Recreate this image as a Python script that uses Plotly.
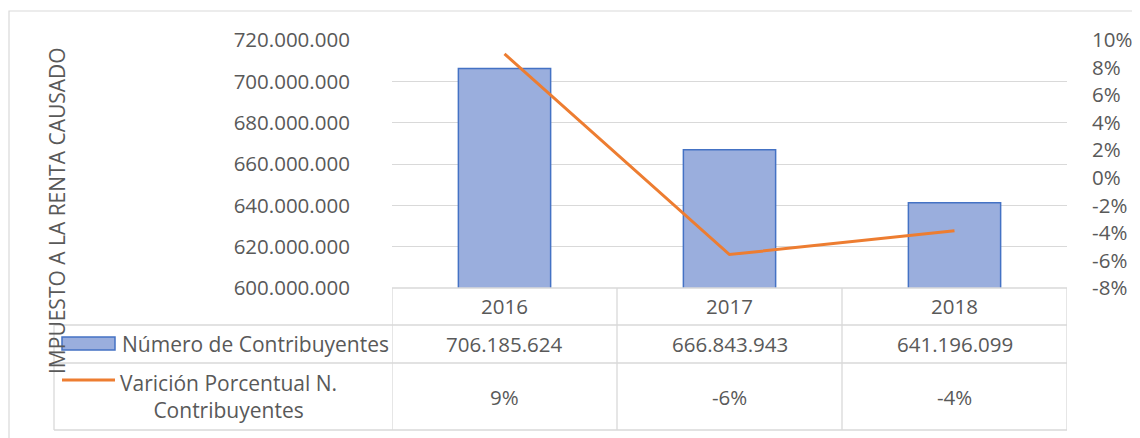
import plotly.graph_objects as go

# ---- data ----
years = ["2016", "2017", "2018"]
contribuyentes = [706185624, 666843943, 641196099]
variacion = [0.09, -0.0557, -0.0385]
series_names = ["Número de Contribuyentes", "Varición Porcentual N.<br>Contribuyentes"]
y_title = "IMPUESTO A LA RENTA CAUSADO"
pct_ticks = [-8, -6, -4, -2, 0, 2, 4, 6, 8, 10]

# page body has an 8px default margin; figure sized so the page is 1140x438
OFF = 8
W, H = 1140 - OFF, 438 - OFF
FONT = "Open Sans"
GRAY_TXT = "#595959"
GRID = "#d9d9d9"
BAR_FILL = "#9aaedd"
BAR_LINE = "#4472c4"
ORANGE = "#ed7d31"


def px(x):
    return (x - OFF) / W


def py(y):
    return (H - (y - OFF)) / H


fig = go.Figure()
fig.add_trace(go.Bar(
    x=years, y=contribuyentes, name=series_names[0], width=0.41,
    marker=dict(color=BAR_FILL, line=dict(color=BAR_LINE, width=1.5)),
    yaxis="y", showlegend=False,
))
fig.add_trace(go.Scatter(
    x=years, y=variacion, name="Variación", mode="lines",
    line=dict(color=ORANGE, width=3), yaxis="y2", showlegend=False,
))

plot_l, plot_r, plot_t, plot_b = 392, 1067, 40, 288

shapes = []
line_style = dict(color=GRID, width=1.3)
# table horizontal lines
shapes.append(dict(type="line", xref="paper", yref="paper", x0=px(plot_l), x1=px(plot_r),
                   y0=py(288), y1=py(288), line=line_style))
for yy in (325, 363, 430):
    shapes.append(dict(type="line", xref="paper", yref="paper", x0=px(54), x1=px(plot_r),
                       y0=py(yy), y1=py(yy), line=line_style))
# table vertical lines
shapes.append(dict(type="line", xref="paper", yref="paper", x0=px(54), x1=px(54),
                   y0=py(325), y1=py(430), line=line_style))
for xv in (-0.5, 0.5, 1.5, 2.5):
    shapes.append(dict(type="line", xref="x", yref="paper", x0=xv, x1=xv,
                       y0=py(288), y1=py(430), line=line_style))
# outer chart border
shapes.append(dict(type="rect", xref="paper", yref="paper", x0=px(9), x1=1.02,
                   y0=-0.03, y1=py(11), line=dict(color=GRID, width=1.2)))
# legend keys
shapes.append(dict(type="rect", xref="paper", yref="paper", x0=px(62), x1=px(115),
                   y0=py(350), y1=py(337), fillcolor=BAR_FILL,
                   line=dict(color=BAR_LINE, width=1.5)))
shapes.append(dict(type="line", xref="paper", yref="paper", x0=px(62), x1=px(115),
                   y0=py(380), y1=py(380), line=dict(color=ORANGE, width=3)))

ann = []
tf = dict(family=FONT, size=20.5, color=GRAY_TXT)
lf = dict(family=FONT, size=21, color=GRAY_TXT)
for i, yr in enumerate(years):
    ann.append(dict(x=i, xref="x", y=py(306), yref="paper", text=yr, showarrow=False,
                    font=tf, xanchor="center", yanchor="middle"))
    ann.append(dict(x=i, xref="x", y=py(344), yref="paper",
                    text=f"{contribuyentes[i]:,}".replace(",", "."), showarrow=False,
                    font=tf, xanchor="center", yanchor="middle"))
    ann.append(dict(x=i, xref="x", y=py(397), yref="paper",
                    text=f"{round(variacion[i] * 100):.0f}%", showarrow=False,
                    font=tf, xanchor="center", yanchor="middle"))
ann.append(dict(x=px(120), xref="paper", y=py(344), yref="paper", text=series_names[0],
                showarrow=False, font=lf, xanchor="left", yanchor="middle"))
ann.append(dict(x=px(228), xref="paper", y=py(396), yref="paper", text=series_names[1],
                showarrow=False, font=lf, xanchor="center", yanchor="middle", align="center"))
ann.append(dict(x=px(57), xref="paper", y=py(211), yref="paper", text=y_title,
                showarrow=False, textangle=-90, font=lf, xanchor="center", yanchor="middle"))

fig.update_layout(
    width=W, height=H,
    margin=dict(l=0, r=0, t=0, b=0),
    paper_bgcolor="white", plot_bgcolor="white",
    separators=",.",
    bargap=0.59,
    font=dict(family=FONT, color=GRAY_TXT, size=20.5),
    xaxis=dict(domain=[px(plot_l), px(plot_r)], range=[-0.5, 2.5], type="category",
               showticklabels=False, showgrid=False, zeroline=False, showline=False,
               automargin=False, anchor="y"),
    yaxis=dict(domain=[py(plot_b), py(plot_t)], range=[600e6, 720e6], dtick=20e6,
               tickformat=",d", showgrid=True, gridcolor=GRID, gridwidth=1.3,
               zeroline=False, showline=False, ticks="outside", ticklen=37,
               tickcolor="rgba(0,0,0,0)", tickfont=tf,
               automargin=False, anchor="x"),
    yaxis2=dict(domain=[py(plot_b), py(plot_t)], range=[-0.08, 0.10],
                tickmode="array", tickvals=[v / 100 for v in pct_ticks],
                ticktext=[f"{v}%" for v in pct_ticks],
                overlaying="y", side="right", showgrid=False,
                zeroline=False, showline=False, ticks="outside", ticklen=20,
                tickcolor="rgba(0,0,0,0)", tickfont=tf,
                automargin=False, anchor="x"),
    shapes=shapes,
    annotations=ann,
)

fig.write_html("out.html")
